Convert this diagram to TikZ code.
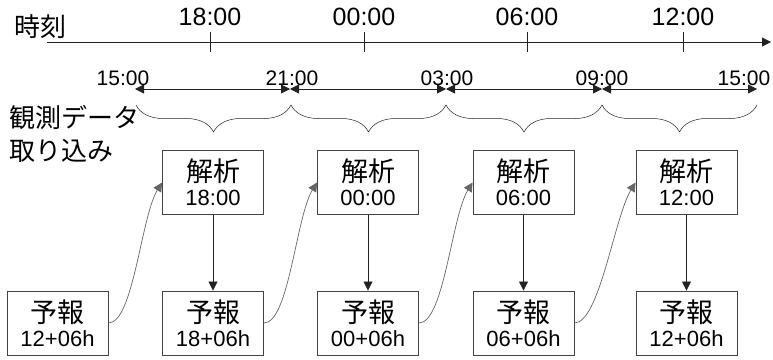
\documentclass[tikz,border=0pt]{standalone}
\usepackage{fontspec}
\setmainfont{Liberation Sans}
\newfontfamily\jp{Noto Sans CJK JP}
\usetikzlibrary{arrows.meta,decorations.pathreplacing}
\definecolor{ln}{HTML}{222222}
\definecolor{bx}{HTML}{444444}
\definecolor{cv}{HTML}{666666}
\begin{document}
\begin{tikzpicture}[x=1pt,y=-1pt,
  tip/.style={-{Triangle[length=9pt,width=9pt]}},
  dtip/.style={{Triangle[length=9pt,width=9pt]}-{Triangle[length=9pt,width=9pt]}},
  bigtime/.style={font=\fontsize{25}{28}\selectfont, inner sep=0pt},
  smalltime/.style={font=\fontsize{21}{24}\selectfont, inner sep=0pt},
  jplabel/.style={font=\jp\fontsize{26}{33}\selectfont, inner sep=0pt, align=left},
  procbox/.style={draw=bx, line width=0.9pt, minimum width=101pt, minimum height=64pt, inner sep=0pt, align=center},
  curly/.style={decorate, decoration={brace, mirror, amplitude=27pt}, draw=ln, line width=0.5pt},
  conn/.style={draw=cv, line width=0.7pt, -{Triangle[length=9pt,width=9pt]}},
  down/.style={draw=ln, line width=0.8pt, -{Triangle[length=9pt,width=9pt]}}
]
\useasboundingbox (0,0) rectangle (773,359);
\newcommand{\boxtext}[2]{{\jp\fontsize{27}{28}\selectfont #1}\\[5pt]{\fontsize{22}{24}\selectfont #2}}

% time axis
\coordinate (axs) at (47,42);
\coordinate (axe) at (771,42);
\draw[tip, draw=ln, line width=0.8pt] (axs) -- (axe);
\node[jplabel, anchor=west] (jikoku) at (14,27) {時刻};
\foreach \x/\t/\n in {210/18:00/t1, 364/00:00/t2, 527/06:00/t3, 683/12:00/t4} {
  \coordinate (\n top) at (\x,32);
  \coordinate (\n bot) at (\x,52);
  \draw[ln, line width=0.8pt] (\n top) -- (\n bot);
  \node[bigtime] (\n lab) at (\x,17) {\t};
}

% observation windows
\coordinate (p0) at (135,89);
\coordinate (p1) at (290,89);
\coordinate (p2) at (446,89);
\coordinate (p3) at (602,89);
\coordinate (p4) at (757,89);
\draw[dtip, draw=ln, line width=0.8pt] (p0) -- (p1);
\draw[dtip, draw=ln, line width=0.8pt] (p1) -- (p2);
\draw[dtip, draw=ln, line width=0.8pt] (p2) -- (p3);
\draw[dtip, draw=ln, line width=0.8pt] (p3) -- (p4);
\node[smalltime] (l0) at (123,78) {15:00};
\node[smalltime] (l1) at (292,78) {21:00};
\node[smalltime] (l2) at (447,78) {03:00};
\node[smalltime] (l3) at (602,78) {09:00};
\node[smalltime] (l4) at (744,78) {15:00};

\coordinate (b0) at (136,105);
\coordinate (b1) at (291,105);
\coordinate (b2) at (446,105);
\coordinate (b3) at (602,105);
\coordinate (b4) at (757,105);
\draw[curly] (b0) -- (b1);
\draw[curly] (b1) -- (b2);
\draw[curly] (b2) -- (b3);
\draw[curly] (b3) -- (b4);
\node[jplabel, anchor=west] (obs) at (9,133.5) {観測データ\\取り込み};

% boxes
\node[procbox] (a1) at (213,182.5) {\boxtext{解析}{18:00}};
\node[procbox] (a2) at (368,182.5) {\boxtext{解析}{00:00}};
\node[procbox] (a3) at (523.5,182.5) {\boxtext{解析}{06:00}};
\node[procbox] (a4) at (686.5,182.5) {\boxtext{解析}{12:00}};
\node[procbox] (f0) at (57.5,323) {\boxtext{予報}{12+06h}};
\node[procbox] (f1) at (213,323) {\boxtext{予報}{18+06h}};
\node[procbox] (f2) at (368,323) {\boxtext{予報}{00+06h}};
\node[procbox] (f3) at (523.5,323) {\boxtext{予報}{06+06h}};
\node[procbox] (f4) at (686.5,323) {\boxtext{予報}{12+06h}};

% arrows
\foreach \i in {1,...,4} { \draw[down] (a\i.south) -- (f\i.north); }
\draw[conn] (f0.east) .. controls +(25,0) and +(-21,34) .. (a1.west);
\draw[conn] (f1.east) .. controls +(25,0) and +(-21,34) .. (a2.west);
\draw[conn] (f2.east) .. controls +(25,0) and +(-21,34) .. (a3.west);
\draw[conn] (f3.east) .. controls +(25,0) and +(-21,34) .. (a4.west);
\end{tikzpicture}
\end{document}
